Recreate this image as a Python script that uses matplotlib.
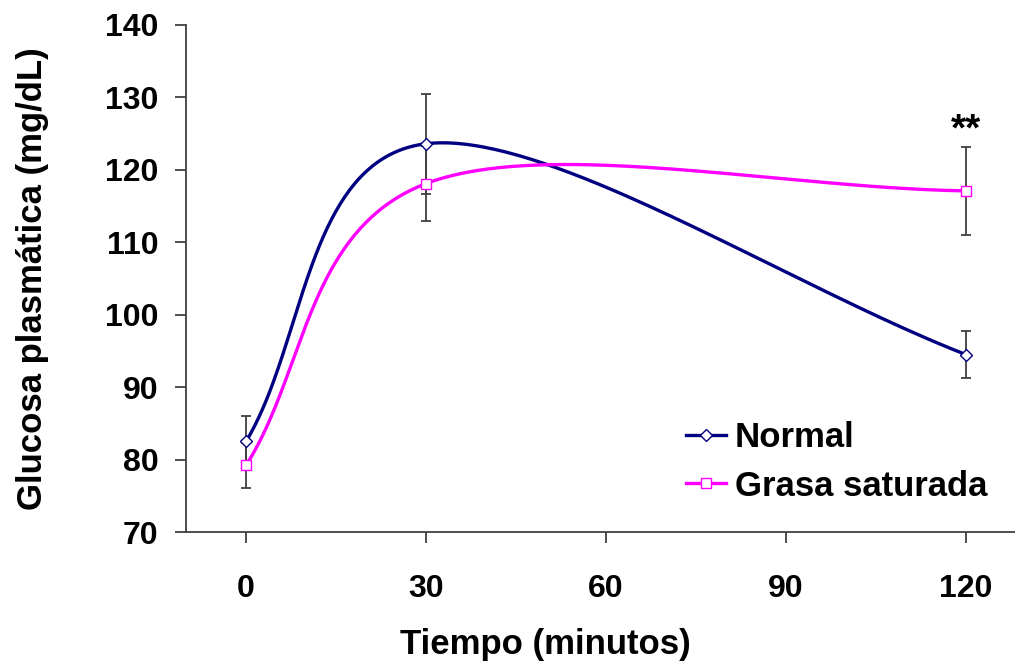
import numpy as np
import matplotlib
matplotlib.use("Agg")
import matplotlib.pyplot as plt

plt.rcParams['font.family'] = ['Liberation Sans', 'DejaVu Sans']
plt.rcParams['font.weight'] = 'bold'

# datos
tiempo = [0, 30, 120]
normal = [82.5, 123.6, 94.5]
normal_err = [3.5, 6.9, 3.2]
grasa = [79.2, 118.1, 117.1]
grasa_err = [3.1, 5.2, 6.1]
ticks_x = [0, 30, 60, 90, 120]
ticks_y = [70, 80, 90, 100, 110, 120, 130, 140]


def suavizar(ax, xs, ys, n=80):
    # curva suavizada parecida a la de Excel (Bezier en pixeles)
    pts = ax.transData.transform(np.column_stack([xs, ys]))
    # puntos reflejados en los extremos
    p = np.vstack([2 * pts[0] - pts[1], pts, 2 * pts[-1] - pts[-2]])
    t = np.linspace(0, 1, n)[:, None]
    out = []
    for i in range(1, len(p) - 2):
        p1, p2 = p[i], p[i + 1]
        d12 = np.linalg.norm(p2 - p1)
        v = p[i + 1] - p[i - 1]
        c1 = p1 + min(1 / 6, d12 / 2 / np.linalg.norm(v)) * v
        v = p[i + 2] - p[i]
        c2 = p2 - min(1 / 6, d12 / 2 / np.linalg.norm(v)) * v
        seg = (1 - t)**3 * p1 + 3 * (1 - t)**2 * t * c1 + 3 * (1 - t) * t**2 * c2 + t**3 * p2
        out.append(seg)
    out = np.vstack(out)
    d = ax.transData.inverted().transform(out)
    return d[:, 0], d[:, 1]


fig = plt.figure(figsize=(10.15, 6.66), dpi=100)
ax = fig.add_axes([0.1833, 0.2012, 0.8167, 0.7613])
ax.set_xlim(-10, 128.2)
ax.set_ylim(70, 140)

gris = '#404040'
ax.errorbar(tiempo, normal, yerr=normal_err, fmt='none', ecolor=gris, elinewidth=1.3, capsize=3.6, capthick=1.3, zorder=2)
ax.errorbar(tiempo, grasa, yerr=grasa_err, fmt='none', ecolor=gris, elinewidth=1.3, capsize=3.6, capthick=1.3, zorder=2)

sx, sy = suavizar(ax, tiempo, normal)
ax.plot(sx, sy, color='#000080', lw=2.4, zorder=3)
sx, sy = suavizar(ax, tiempo, grasa)
ax.plot(sx, sy, color='#FF00FF', lw=2.4, zorder=3)
ax.plot(tiempo, normal, ls='none', marker='D', ms=6.5, mfc='white', mec='#000080', mew=1, zorder=4)
ax.plot(tiempo, grasa, ls='none', marker='s', ms=7.5, mfc='white', mec='#FF00FF', mew=1, zorder=4)

# entradas de la leyenda
ax.plot([], [], color='#000080', lw=2.4, marker='D', ms=6.5, mfc='white', mec='#000080', mew=1, label='Normal')
ax.plot([], [], color='#FF00FF', lw=2.4, marker='s', ms=7.5, mfc='white', mec='#FF00FF', mew=1, label='Grasa saturada')
h, l = ax.get_legend_handles_labels()
ax.legend(h[-2:], l[-2:], loc='upper left', bbox_to_anchor=(0.603, 0.219), frameon=False,
          fontsize=25, handlelength=1.15, handletextpad=0.25, labelspacing=0.45, borderaxespad=0,
          borderpad=0)

ax.text(120, 123.0, '**', ha='center', va='bottom', fontsize=28, fontweight='bold')

ax.spines['top'].set_visible(False)
ax.spines['right'].set_visible(False)
for s in ['left', 'bottom']:
    ax.spines[s].set_color(gris)
    ax.spines[s].set_linewidth(1.3)
ax.set_xticks(ticks_x)
ax.set_yticks(ticks_y)
ax.tick_params(axis='both', direction='out', length=8, width=1.3, color=gris, labelsize=23)
ax.tick_params(axis='x', pad=22)
ax.tick_params(axis='y', pad=12)
ax.set_xlabel('Tiempo (minutos)', fontsize=25, fontweight='bold')
ax.xaxis.set_label_coords(0.434, -0.19)
ax.set_ylabel('Glucosa plasmática (mg/dL)', fontsize=25, fontweight='bold', labelpad=40)

fig.savefig('out.png', dpi=100)
